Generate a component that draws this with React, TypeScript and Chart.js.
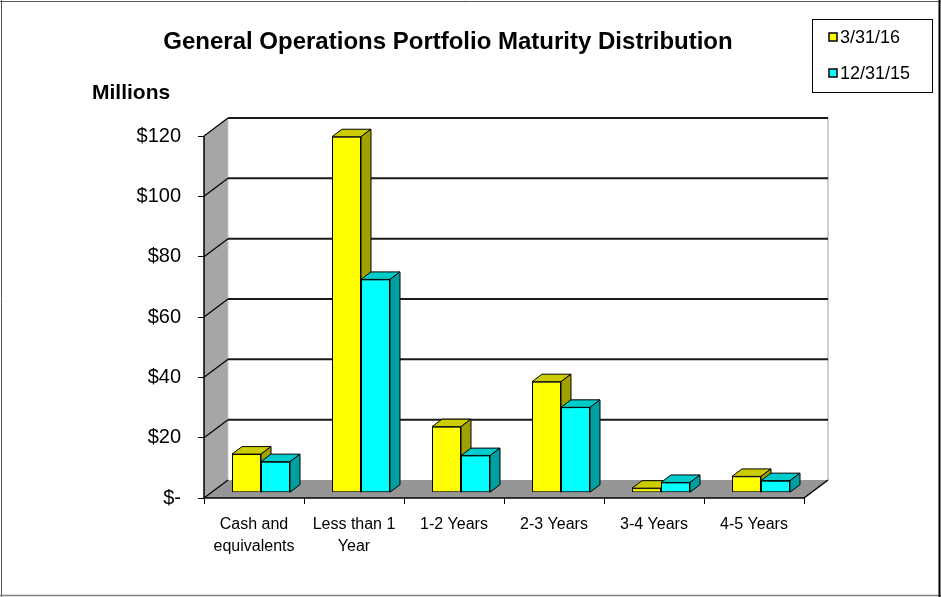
import React, { useEffect, useRef } from "react";
import { Chart, registerables } from "chart.js";

Chart.register(...registerables);

const TITLE = "General Operations Portfolio Maturity Distribution";
const UNIT_LABEL = "Millions";
const categories: (string | string[])[] = [
  ["Cash and", "equivalents"],
  ["Less than 1", "Year"],
  "1-2 Years",
  "2-3 Years",
  "3-4 Years",
  "4-5 Years",
];
const seriesNames = ["3/31/16", "12/31/15"];
const values2016 = [12.8, 118, 21.9, 36.8, 1.5, 5.4];
const values2015 = [10.3, 70.7, 12.3, 28.3, 3.4, 4.0];
const yMin = 0;
const yMax = 120;
const yStep = 20;

const FONT = "'Liberation Sans', Arial, sans-serif";
const FRONT = ["#FFFF00", "#00FFFF"];
const TOP = ["#CCCC00", "#00CCCC"];
const SIDE = ["#A0A000", "#00A0A0"];

// 3D geometry
const WALL_DX = 24;
const WALL_DY = 18;
const BAR_SHIFT_X = 7;
const BAR_SHIFT_Y = 5.3;
const BAR_DX = 10;
const BAR_DY = 7.5;

function poly(ctx: CanvasRenderingContext2D, pts: number[][], fill: string, stroke?: string, lw = 1) {
  ctx.beginPath();
  ctx.moveTo(pts[0][0], pts[0][1]);
  for (let i = 1; i < pts.length; i++) ctx.lineTo(pts[i][0], pts[i][1]);
  ctx.closePath();
  ctx.fillStyle = fill;
  ctx.fill();
  if (stroke) {
    ctx.strokeStyle = stroke;
    ctx.lineWidth = lw;
    ctx.stroke();
  }
}

function line(ctx: CanvasRenderingContext2D, x1: number, y1: number, x2: number, y2: number, color: string, lw: number) {
  ctx.beginPath();
  ctx.moveTo(x1, y1);
  ctx.lineTo(x2, y2);
  ctx.strokeStyle = color;
  ctx.lineWidth = lw;
  ctx.stroke();
}

const threeD = {
  id: "threeD",
  beforeDatasetsDraw(chart: any) {
    const { ctx, chartArea: a, scales } = chart;
    const y = scales.y;
    ctx.save();
    // side wall
    poly(ctx, [[a.left, a.bottom], [a.left, a.top], [a.left + WALL_DX, a.top - WALL_DY], [a.left + WALL_DX, a.bottom - WALL_DY]], "#A6A6A6");
    // floor
    poly(ctx, [[a.left, a.bottom], [a.right, a.bottom], [a.right + WALL_DX, a.bottom - WALL_DY], [a.left + WALL_DX, a.bottom - WALL_DY]], "#969696");
    // back wall edges
    line(ctx, a.right + WALL_DX, a.top - WALL_DY, a.right + WALL_DX, a.bottom - WALL_DY, "#C0C0C0", 1.5);
    line(ctx, a.left + WALL_DX, a.top - WALL_DY, a.left + WALL_DX, a.bottom - WALL_DY, "#C8C8C8", 1);
    // grid lines
    for (const t of y.ticks) {
      const yp = y.getPixelForValue(t.value);
      if (t.value > yMin) {
        line(ctx, a.left + WALL_DX, yp - WALL_DY, a.right + WALL_DX, yp - WALL_DY, "#1A1A1A", 2);
      }
      line(ctx, a.left, yp, a.left + WALL_DX, yp - WALL_DY, "#000000", 1.2);
    }
    // front edges
    line(ctx, a.left, a.top, a.left, a.bottom, "#000000", 1.5);
    line(ctx, a.left, a.bottom, a.right, a.bottom, "#000000", 1.5);
    line(ctx, a.right, a.bottom, a.right + WALL_DX, a.bottom - WALL_DY, "#000000", 1.5);
    ctx.restore();
    ctx.save();
    ctx.translate(BAR_SHIFT_X, -BAR_SHIFT_Y);
  },
  afterDatasetsDraw(chart: any) {
    const { ctx } = chart;
    const m0 = chart.getDatasetMeta(0);
    const m1 = chart.getDatasetMeta(1);
    const faces = (el: any, k: number) => {
      const { x, y, base, width } = el.getProps(["x", "y", "base", "width"], true);
      const L = x - width / 2;
      const R = x + width / 2;
      poly(ctx, [[L, y], [R, y], [R + BAR_DX, y - BAR_DY], [L + BAR_DX, y - BAR_DY]], TOP[k], "#000000", 1);
      poly(ctx, [[R, y], [R + BAR_DX, y - BAR_DY], [R + BAR_DX, base - BAR_DY], [R, base]], SIDE[k], "#000000", 1);
    };
    for (let i = 0; i < m0.data.length; i++) {
      faces(m0.data[i], 0);
      m1.data[i].draw(ctx);
      faces(m1.data[i], 1);
    }
    ctx.restore();
  },
  afterDraw(chart: any) {
    const { ctx } = chart;
    ctx.save();
    // outer frame
    line(ctx, 0, 1.5, 941, 1.5, "#555555", 1);
    line(ctx, 1.5, 0, 1.5, 597, "#555555", 1);
    line(ctx, 0, 595.5, 941, 595.5, "#808080", 1.5);
    line(ctx, 939.5, 0, 939.5, 597, "#000000", 2);
    // title
    ctx.fillStyle = "#000000";
    ctx.textBaseline = "middle";
    ctx.textAlign = "center";
    ctx.font = `bold 24px ${FONT}`;
    ctx.fillText(TITLE, 448, 42);
    ctx.textAlign = "left";
    ctx.font = `bold 21px ${FONT}`;
    ctx.fillText(UNIT_LABEL, 92, 93);
    // legend
    ctx.strokeStyle = "#000000";
    ctx.lineWidth = 1;
    ctx.strokeRect(812.5, 19.5, 120, 73);
    ctx.font = `18px ${FONT}`;
    chart.data.datasets.forEach((ds: any, i: number) => {
      const cy = 37 + i * 36;
      ctx.fillStyle = ds.backgroundColor;
      ctx.fillRect(829, cy - 4, 8, 8);
      ctx.lineWidth = 1.5;
      ctx.strokeStyle = "#000000";
      ctx.strokeRect(829, cy - 4, 8, 8);
      ctx.fillStyle = "#000000";
      ctx.fillText(ds.label, 840, cy + 1);
    });
    ctx.restore();
  },
};

export default function App() {
  const ref = useRef<HTMLCanvasElement | null>(null);
  useEffect(() => {
    if (!ref.current) return;
    const chart = new Chart(ref.current, {
      type: "bar",
      data: {
        labels: categories,
        datasets: [
          {
            label: seriesNames[0],
            data: values2016,
            backgroundColor: FRONT[0],
            borderColor: "#000000",
            borderWidth: 1,
            borderSkipped: false,
          },
          {
            label: seriesNames[1],
            data: values2015,
            backgroundColor: FRONT[1],
            borderColor: "#000000",
            borderWidth: 1,
            borderSkipped: false,
          },
        ],
      },
      options: {
        responsive: false,
        animation: false,
        layout: { padding: { left: 0, top: 136, right: 137, bottom: 0 } },
        plugins: {
          legend: { display: false },
          title: { display: false },
          tooltip: { enabled: false },
        },
        datasets: { bar: { categoryPercentage: 0.58, barPercentage: 1 } },
        scales: {
          x: {
            grid: { drawOnChartArea: false, drawTicks: true, tickLength: 6, color: "#000000", offset: true },
            border: { display: false },
            ticks: {
              color: "#000000",
              font: { family: FONT, size: 16, lineHeight: 1.35 },
              maxRotation: 0,
              autoSkip: false,
              padding: 10,
            },
            afterFit: (s: any) => {
              s.height = 99;
            },
          },
          y: {
            min: yMin,
            max: yMax,
            grid: { drawOnChartArea: false, drawTicks: true, tickLength: 6, color: "#000000" },
            border: { display: false },
            ticks: {
              stepSize: yStep,
              color: "#000000",
              font: { family: FONT, size: 20 },
              padding: 17,
              callback: (v: any) => (Number(v) === 0 ? "$-" : "$" + v),
            },
            afterFit: (s: any) => {
              s.width = 204;
            },
          },
        },
      } as any,
      plugins: [threeD],
    });
    return () => chart.destroy();
  }, []);
  return (
    <div style={{ position: "fixed", left: 0, top: 0, width: 941, height: 597, background: "#ffffff" }}>
      <canvas ref={ref} width={941} height={597} style={{ width: 941, height: 597, display: "block" }} />
    </div>
  );
}
